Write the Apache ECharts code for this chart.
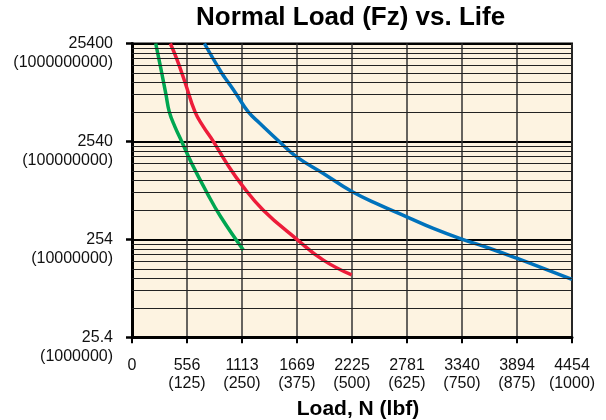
<!DOCTYPE html>
<html><head><meta charset="utf-8">
<script src="https://cdn.jsdelivr.net/npm/echarts@6/dist/echarts.min.js"></script>
<style>html,body{margin:0;padding:0;background:#fff}#c{width:606px;height:420px}</style>
</head><body><div id="c"></div>
<script>
// Tick labels
const xTickN = ['0', '556', '1113', '1669', '2225', '2781', '3340', '3894', '4454'];
const xTickLbf = ['', '(125)', '(250)', '(375)', '(500)', '(625)', '(750)', '(875)', '(1000)'];
const yTickLife = ['25.4', '254', '2540', '25400'];
const yTickRev = ['(1000000)', '(10000000)', '(100000000)', '(1000000000)'];

// Series values: load in N, life in the primary (left) unit
const greenLoad = [240, 301, 344, 378, 435, 503, 604, 762, 898, 1127];
const greenLife = [25400, 12700, 7620, 5080, 3580, 2540, 1516, 750, 432, 198];

const redLoad = [388, 452, 537, 638, 722, 823, 959, 1113, 1329, 1669, 1937, 2224];
const redLife = [25400, 17780, 10160, 5080, 3600, 2540, 1516, 910, 505, 254, 156, 110];

const blueLoad = [733, 908, 975, 1060, 1177, 1296, 1490, 1667, 1937, 2230, 2510, 2781, 3050, 3338, 3624, 3894, 4454];
const blueLife = [25400, 12700, 10160, 7620, 5080, 3880, 2540, 1769, 1197, 777, 569, 432, 329, 256, 205, 163, 99];

const REV_PER_UNIT = 1e6 / 25.4; // 25.4 <-> 1000000
const toPairs = (xs, ys) => xs.map((x, i) => [x, ys[i] * REV_PER_UNIT]);

const minorVals = [];
for (let k = 6; k < 9; k++) for (let m = 2; m <= 9; m++) minorVals.push(m * Math.pow(10, k));

const FONT = 'Liberation Sans, Arial, Helvetica, sans-serif';
const lineSeries = (name, xs, ys, color) => ({
  type: 'line', name: name, data: toPairs(xs, ys), showSymbol: false, symbol: 'none',
  smooth: 0.45, z: 3, lineStyle: {color: color, width: 3.5, cap: 'butt'}
});

const chart = echarts.init(document.getElementById('c'), null, {renderer: 'canvas'});
chart.setOption({
  animation: false,
  backgroundColor: '#ffffff',
  title: {
    text: 'Normal Load (Fz) vs. Life',
    left: 196, top: 5, padding: 0,
    textStyle: {fontFamily: FONT, fontSize: 26, fontWeight: 'bold', color: '#000', lineHeight: 26}
  },
  grid: {
    left: 132, right: 34, top: 43.5, bottom: 82.7,
    containLabel: false, outerBoundsMode: 'none',
    show: true, backgroundColor: '#fdf3e1', borderColor: '#000', borderWidth: 2
  },
  xAxis: {
    type: 'value', min: 0, max: 4454, interval: 4454 / 8,
    axisLine: {show: true, onZero: false, lineStyle: {color: '#000', width: 3}},
    axisTick: {show: true, length: 6, lineStyle: {color: '#000', width: 2}},
    axisLabel: {
      margin: 19, fontSize: 16, lineHeight: 18, color: '#111', fontFamily: FONT,
      showMinLabel: true, showMaxLabel: true,
      formatter: function (v) {
        const i = Math.round(v / (4454 / 8));
        return xTickLbf[i] ? xTickN[i] + '\n' + xTickLbf[i] : xTickN[i];
      }
    },
    splitLine: {show: true, lineStyle: {color: '#333', width: 1.5}},
    name: 'Load, N (lbf)', nameLocation: 'middle', nameGap: 60,
    nameTextStyle: {fontFamily: FONT, fontSize: 21, fontWeight: 'bold', color: '#000', lineHeight: 24, padding: [0, 0, 0, 12]}
  },
  yAxis: {
    type: 'log', logBase: 10, min: 1e6, max: 1e9,
    axisLine: {show: true, lineStyle: {color: '#000', width: 3}},
    axisTick: {show: true, length: 6, lineStyle: {color: '#000', width: 2.5}},
    axisLabel: {
      margin: 19, fontSize: 16, lineHeight: 19, color: '#111', fontFamily: FONT,
      showMinLabel: true, showMaxLabel: true,
      formatter: function (v) {
        const i = Math.round(Math.log10(v)) - 6;
        return '\n' + yTickLife[i] + '\n' + yTickRev[i];
      }
    },
    splitLine: {show: true, lineStyle: {color: '#000', width: 2}}
  },
  series: [
    {
      type: 'line', data: [], z: 1, silent: true,
      markLine: {
        silent: true, symbol: ['none', 'none'], label: {show: false}, animation: false,
        lineStyle: {color: '#222', width: 1, type: 'solid'},
        emphasis: {disabled: true},
        data: minorVals.map(v => ({yAxis: v}))
      }
    },
    lineSeries('green', greenLoad, greenLife, '#00a651'),
    lineSeries('red', redLoad, redLife, '#ed1c3a'),
    lineSeries('blue', blueLoad, blueLife, '#0072bc')
  ]
});
</script></body></html>
